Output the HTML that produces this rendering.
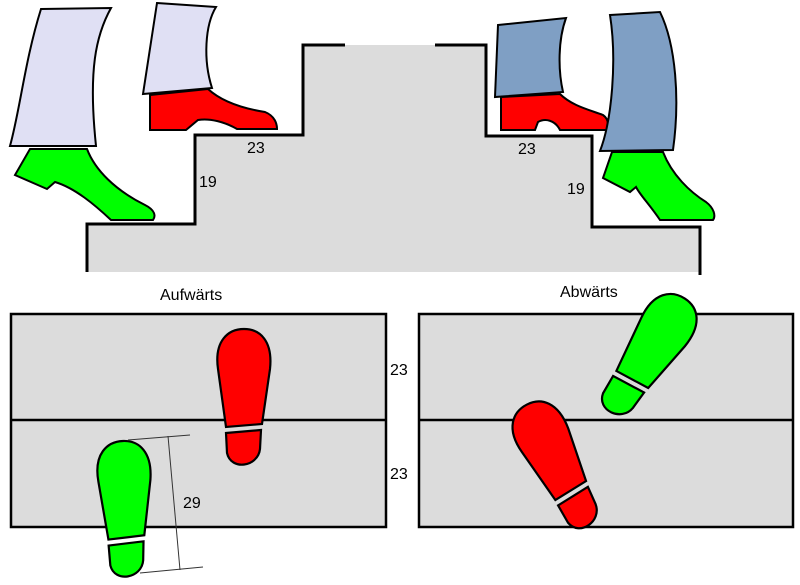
<!DOCTYPE html>
<html><head><meta charset="utf-8"><style>
html,body{margin:0;padding:0;background:#fff;}
svg{display:block;font-family:"Liberation Sans",sans-serif;}
</style></head><body>
<svg width="800" height="585" viewBox="0 0 800 585" xmlns="http://www.w3.org/2000/svg">
<defs>
<g id="fp">
<path d="M -17,98 L -25,40 C -29,12 -15,0 1,0 C 17,0 30,12 27,40 L 19,95 Z" stroke="#000" stroke-width="2.2"/>
<path d="M -17,104 L 18,101 L 17,120 C 15,138 -12,142 -16,124 Z" stroke="#000" stroke-width="2.2"/>
</g>
</defs>
<polygon points="87,224 195,224 195,135 303,135 303,45 486,45 486,136 592,136 592,227 700,227 700,272 87,272" fill="#dcdcdc"/>
<polyline points="87,272 87,224 195,224 195,135 303,135 303,45 345,45" fill="none" stroke="#000" stroke-width="3"/>
<polyline points="435,45 486,45 486,136 592,136 592,227 700,227 700,275" fill="none" stroke="#000" stroke-width="3"/>
<text x="247" y="153" font-size="16">23</text>
<text x="199" y="187" font-size="16">19</text>
<text x="518" y="154" font-size="16">23</text>
<text x="567" y="194" font-size="16">19</text>
<path d="M41,9 L111,8 C96,35 88,70 96,146 L10,146 C20,110 25,60 41,9 Z" fill="#e0e0f4" stroke="#000" stroke-width="2"/>
<path d="M30,149 L87,149 C95,170 115,190 145,205 C155,210 156,216 153,220 L111,220 C95,205 75,188 55,182 L47,189 L15,175 Z" fill="#00ff00" stroke="#000" stroke-width="2"/>
<path d="M157,3 L216,7 C205,25 203,60 212,88 L143,94 Z" fill="#e0e0f4" stroke="#000" stroke-width="2"/>
<path d="M150,95 L208,89 C220,100 240,108 265,112 C275,116 277,124 277,129 L237,129 C225,122 210,118 198,120 L186,130 L150,130 Z" fill="#ff0000" stroke="#000" stroke-width="2"/>
<path d="M498,25 L566,18 C558,40 558,70 563,92 L495,97 Z" fill="#7f9fc4" stroke="#000" stroke-width="2"/>
<path d="M501,97 L560,94 C572,106 590,110 603,115 C610,120 608,128 607,130 L560,130 C555,120 545,118 538,122 L535,130 L501,130 Z" fill="#ff0000" stroke="#000" stroke-width="2"/>
<path d="M610,15 L660,12 C676,45 680,100 673,150 L600,151 C612,120 617,60 610,15 Z" fill="#7f9fc4" stroke="#000" stroke-width="2"/>
<path d="M612,152 L663,152 C672,175 690,192 706,202 C714,208 716,216 713,220 L660,220 C650,205 640,195 636,187 L630,192 L603,178 Z" fill="#00ff00" stroke="#000" stroke-width="2"/>
<text x="160" y="300" font-size="16">Aufwärts</text>
<text x="560" y="297" font-size="16">Abwärts</text>
<rect x="11" y="314" width="375" height="213" fill="#dcdcdc" stroke="#000" stroke-width="2.5"/>
<line x1="11" y1="420" x2="386" y2="420" stroke="#000" stroke-width="2.5"/>
<rect x="419" y="314" width="374" height="213" fill="#dcdcdc" stroke="#000" stroke-width="2.5"/>
<line x1="419" y1="420" x2="793" y2="420" stroke="#000" stroke-width="2.5"/>
<text x="390" y="375" font-size="16">23</text>
<text x="390" y="479" font-size="16">23</text>
<use href="#fp" fill="#ff0000" transform="translate(243,329)"/>
<use href="#fp" fill="#00ff00" transform="translate(122,441) rotate(-2)"/>
<use href="#fp" fill="#00ff00" transform="translate(684,298) rotate(33)"/>
<use href="#fp" fill="#ff0000" transform="translate(526,405) rotate(-27)"/>
<g stroke="#333" stroke-width="1" fill="none">
<line x1="128" y1="440" x2="190" y2="435"/>
<line x1="168" y1="436" x2="180" y2="570"/>
<line x1="140" y1="573" x2="203" y2="567"/>
</g>
<text x="183" y="508" font-size="16">29</text>
</svg>
</body></html>
